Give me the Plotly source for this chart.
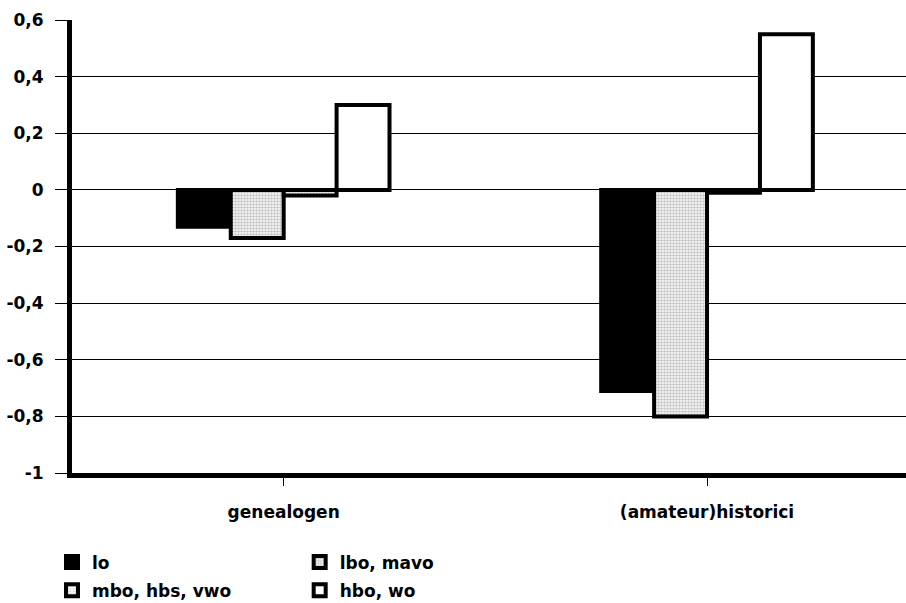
import plotly.graph_objects as go

# Data
categories = ["genealogen", "(amateur)historici"]
series_names = ["lo", "lbo, mavo", "mbo, hbs, vwo", "hbo, wo"]
lo = [-0.13, -0.71]
lbo_mavo = [-0.17, -0.80]
mbo_hbs_vwo = [-0.02, -0.01]
hbo_wo = [0.30, 0.55]
y_ticks = [-1, -0.8, -0.6, -0.4, -0.2, 0, 0.2, 0.4, 0.6]
y_tick_labels = ["-1", "-0,8", "-0,6", "-0,4", "-0,2", "0", "0,2", "0,4", "0,6"]

font = dict(family="DejaVu Sans, Arial, sans-serif", size=17, color="black", weight="bold")

fig = go.Figure()

# series styles: (values, fill, pattern, legend)
styles = [
    (lo, "black", None, "legend"),
    (lbo_mavo, "white", dict(shape=".", fgcolor="#8a8a8a", size=3, solidity=0.55), "legend2"),
    (mbo_hbs_vwo, "white", dict(shape=".", fgcolor="#a8a8a8", size=3, solidity=0.45), "legend"),
    (hbo_wo, "white", None, "legend2"),
]

for name, (vals, fill, pattern, leg) in zip(series_names, styles):
    marker = dict(color=fill, line=dict(color="black", width=4))
    if pattern:
        marker["pattern"] = pattern
    fig.add_trace(go.Bar(
        x=categories, y=vals, name=name, marker=marker,
        legend=leg, legendgroup=name,
    ))

fig.update_layout(
    width=906, height=603,
    barmode="group",
    bargap=0.5, bargroupgap=0,
    plot_bgcolor="white", paper_bgcolor="white",
    font=font,
    margin=dict(l=72, r=0, t=20, b=130, autoexpand=False),
    legend=dict(
        x=-0.024, y=-0.158, xanchor="left", yanchor="top",
        orientation="v", tracegroupgap=3, font=font, bgcolor="rgba(0,0,0,0)",
    ),
    legend2=dict(
        x=0.273, y=-0.158, xanchor="left", yanchor="top",
        orientation="v", tracegroupgap=3, font=font, bgcolor="rgba(0,0,0,0)",
    ),
)

fig.update_xaxes(
    range=[-0.5, 1.47],
    automargin=False,
    showline=True, linecolor="black", linewidth=5,
    ticks="outside", ticklen=8, tickcolor="black", tickwidth=1,
    showgrid=False, tickfont=font, ticklabelstandoff=12,
)
fig.update_yaxes(
    range=[-1, 0.6],
    automargin=False,
    tickvals=y_ticks, ticktext=y_tick_labels,
    showline=True, linecolor="black", linewidth=5,
    ticks="outside", ticklen=12, tickcolor="black", tickwidth=1,
    showgrid=True, gridcolor="black", gridwidth=1,
    zeroline=True, zerolinecolor="black", zerolinewidth=1,
    tickfont=font, ticklabelstandoff=8,
)

# drop the default page margin so the figure sits at the window corner
fig.write_html("out.html", config={"displayModeBar": False},
               post_script="document.body.style.margin='0';")
